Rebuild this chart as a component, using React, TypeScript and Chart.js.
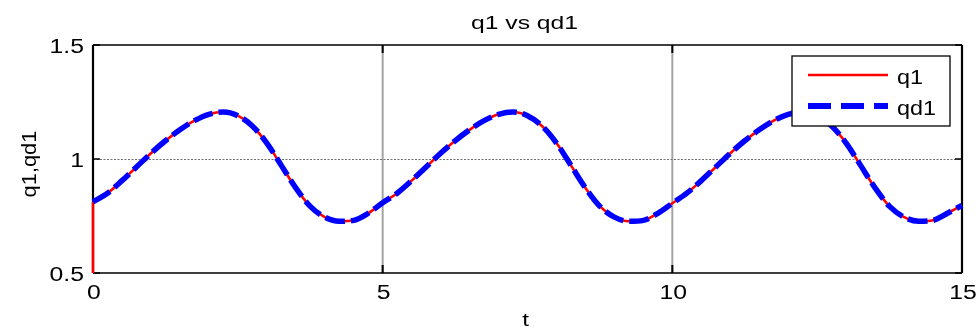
import React, { useEffect, useRef } from "react";
import { Chart, registerables } from "chart.js";

Chart.register(...registerables);

// Sample times (s)
const timeSteps = [
  0, 0.25, 0.5, 0.75, 1, 1.25, 1.5, 1.75, 2, 2.25, 2.5, 2.75, 3, 3.25, 3.5, 3.75, 4, 4.25, 4.5, 4.75,
  5, 5.25, 5.5, 5.75, 6, 6.25, 6.5, 6.75, 7, 7.25, 7.5, 7.75, 8, 8.25, 8.5, 8.75, 9, 9.25, 9.5, 9.75,
  10, 10.25, 10.5, 10.75, 11, 11.25, 11.5, 11.75, 12, 12.25, 12.5, 12.75, 13, 13.25, 13.5, 13.75, 14, 14.25, 14.5, 14.75,
  15,
];

// Joint position q1
const q1Values = [
  0.812, 0.85, 0.905, 0.965, 1.025, 1.08, 1.128, 1.168, 1.196, 1.206, 1.19, 1.145, 1.07, 0.972, 0.873, 0.792, 0.745, 0.727, 0.731, 0.762,
  0.808, 0.85, 0.905, 0.965, 1.025, 1.08, 1.128, 1.168, 1.196, 1.206, 1.19, 1.145, 1.07, 0.972, 0.873, 0.792, 0.745, 0.727, 0.731, 0.762,
  0.806, 0.85, 0.905, 0.965, 1.025, 1.08, 1.128, 1.168, 1.196, 1.206, 1.19, 1.145, 1.07, 0.972, 0.873, 0.792, 0.745, 0.727, 0.731, 0.762,
  0.797,
];

// Desired trajectory qd1
const qd1Values = [
  0.812, 0.85, 0.905, 0.965, 1.025, 1.08, 1.128, 1.168, 1.196, 1.206, 1.19, 1.145, 1.07, 0.972, 0.873, 0.792, 0.745, 0.727, 0.731, 0.762,
  0.808, 0.85, 0.905, 0.965, 1.025, 1.08, 1.128, 1.168, 1.196, 1.206, 1.19, 1.145, 1.07, 0.972, 0.873, 0.792, 0.745, 0.727, 0.731, 0.762,
  0.806, 0.85, 0.905, 0.965, 1.025, 1.08, 1.128, 1.168, 1.196, 1.206, 1.19, 1.145, 1.07, 0.972, 0.873, 0.792, 0.745, 0.727, 0.731, 0.762,
  0.797,
];

// q1 starts from this value at t = 0 before jumping onto the trajectory
const q1InitialValue = 0.5;

const xTicks = [0, 5, 10, 15];
const yTicks = [0.5, 1, 1.5];

const titleText = "q1 vs qd1";
const xAxisTitle = "t";
const yAxisTitle = "q1,qd1";
const seriesNames = ["q1", "qd1"];

const RED = "#ff0000";
const BLUE = "#0000ff";
const FONT = '"Liberation Sans", Arial, Helvetica, sans-serif';
const WIDE = 1.27;

function wideText(
  ctx: CanvasRenderingContext2D,
  text: string,
  x: number,
  y: number,
  size: number,
  align: CanvasTextAlign,
  sx: number = WIDE
) {
  ctx.save();
  ctx.translate(x, y);
  ctx.scale(sx, 1);
  ctx.font = `${size}px ${FONT}`;
  ctx.fillStyle = "#000";
  ctx.textAlign = align;
  ctx.textBaseline = "alphabetic";
  ctx.fillText(text, 0, 0);
  ctx.restore();
}

const frameAndGrid = {
  id: "frameAndGrid",
  beforeDatasetsDraw(chart: any) {
    const { ctx, chartArea: a, scales } = chart;
    const xs = scales.x;
    const ys = scales.y;
    ctx.save();
    // vertical grid lines
    ctx.strokeStyle = "rgba(0,0,0,0.36)";
    ctx.lineWidth = 2;
    xTicks.slice(1, -1).forEach((v) => {
      const px = xs.getPixelForValue(v);
      ctx.beginPath();
      ctx.moveTo(px, a.top);
      ctx.lineTo(px, a.bottom);
      ctx.stroke();
    });
    // horizontal grid lines
    ctx.strokeStyle = "#6f6f6f";
    ctx.lineWidth = 1;
    ctx.setLineDash([2, 1.5]);
    yTicks.slice(1, -1).forEach((v) => {
      const py = Math.round(ys.getPixelForValue(v)) + 0.5;
      ctx.beginPath();
      ctx.moveTo(a.left, py);
      ctx.lineTo(a.right, py);
      ctx.stroke();
    });
    ctx.setLineDash([]);

    // inward tick marks
    ctx.strokeStyle = "#000";
    ctx.lineWidth = 2;
    xTicks.forEach((v) => {
      const px = xs.getPixelForValue(v);
      ctx.beginPath();
      ctx.moveTo(px, a.bottom);
      ctx.lineTo(px, a.bottom - 8);
      ctx.moveTo(px, a.top);
      ctx.lineTo(px, a.top + 8);
      ctx.stroke();
    });
    ctx.lineWidth = 1.5;
    yTicks.forEach((v) => {
      const py = ys.getPixelForValue(v);
      ctx.beginPath();
      ctx.moveTo(a.left, py);
      ctx.lineTo(a.left + 7, py);
      ctx.moveTo(a.right, py);
      ctx.lineTo(a.right - 7, py);
      ctx.stroke();
    });

    // axes box
    ctx.lineWidth = 1.6;
    ctx.beginPath();
    ctx.moveTo(a.left, a.top);
    ctx.lineTo(a.right, a.top);
    ctx.moveTo(a.left, a.bottom);
    ctx.lineTo(a.right, a.bottom);
    ctx.stroke();
    ctx.lineWidth = 2.2;
    ctx.beginPath();
    ctx.moveTo(a.left, a.top);
    ctx.lineTo(a.left, a.bottom);
    ctx.moveTo(a.right, a.top);
    ctx.lineTo(a.right, a.bottom);
    ctx.stroke();
    ctx.restore();
  },
  afterDatasetsDraw(chart: any) {
    const { ctx, chartArea: a, scales } = chart;
    const xs = scales.x;
    const ys = scales.y;

    // tick labels
    yTicks.forEach((v) => {
      const py = ys.getPixelForValue(v);
      wideText(ctx, String(v), a.left - 9, py + 7.5, 19.5, "right");
    });
    xTicks.forEach((v) => {
      const px = xs.getPixelForValue(v);
      wideText(ctx, String(v), px + 1, a.bottom + 26, 19.5, "center");
    });

    // titles
    wideText(ctx, titleText, (a.left + a.right) / 2 - 3, 28.5, 19, "center", 1.3);
    wideText(ctx, xAxisTitle, (a.left + a.right) / 2 - 2, a.bottom + 53, 19, "center");
    ctx.save();
    ctx.translate(36, (a.top + a.bottom) / 2 + 5);
    ctx.rotate(-Math.PI / 2);
    ctx.scale(1.12, 1);
    ctx.font = `19.5px ${FONT}`;
    ctx.fillStyle = "#000";
    ctx.textAlign = "center";
    ctx.textBaseline = "alphabetic";
    ctx.fillText(yAxisTitle, 0, 0);
    ctx.restore();

    // legend box
    const bw = 158;
    const bh = 70;
    const bx = a.right - 170;
    const by = a.top + 11;
    ctx.save();
    ctx.fillStyle = "#fff";
    ctx.fillRect(bx, by, bw, bh);
    ctx.strokeStyle = "#000";
    ctx.lineWidth = 1.3;
    ctx.strokeRect(bx, by, bw, bh);

    ctx.lineCap = "butt";
    ctx.strokeStyle = RED;
    ctx.lineWidth = 2.6;
    ctx.beginPath();
    ctx.moveTo(bx + 16, by + 19);
    ctx.lineTo(bx + 96, by + 19);
    ctx.stroke();

    ctx.strokeStyle = BLUE;
    ctx.lineWidth = 6;
    ctx.setLineDash([23, 10]);
    ctx.beginPath();
    ctx.moveTo(bx + 16, by + 50);
    ctx.lineTo(bx + 96, by + 50);
    ctx.stroke();
    ctx.restore();

    wideText(ctx, seriesNames[0], bx + 105, by + 28, 19.5, "left", 1.2);
    wideText(ctx, seriesNames[1], bx + 105, by + 59, 19.5, "left", 1.2);
  },
};

export default function App() {
  const canvasRef = useRef<HTMLCanvasElement | null>(null);

  useEffect(() => {
    const canvas = canvasRef.current;
    if (!canvas) return;

    const q1Points = timeSteps.map((t, i) => ({ x: t, y: q1Values[i] }));
    const qd1Points = timeSteps.map((t, i) => ({ x: t, y: qd1Values[i] }));
    const q1Jump = [
      { x: timeSteps[0], y: q1InitialValue },
      { x: timeSteps[0], y: q1Values[0] },
    ];

    const chart = new Chart(canvas, {
      type: "line",
      data: {
        datasets: [
          {
            label: seriesNames[1],
            data: qd1Points,
            borderColor: BLUE,
            borderWidth: 5.5,
            borderDash: [20, 6],
            borderCapStyle: "butt",
            borderJoinStyle: "round",
            pointRadius: 0,
            cubicInterpolationMode: "monotone",
            fill: false,
            order: 0,
            clip: false,
          },
          {
            label: seriesNames[0],
            data: q1Points,
            borderColor: RED,
            borderWidth: 2.6,
            pointRadius: 0,
            cubicInterpolationMode: "monotone",
            fill: false,
            order: 1,
            clip: false,
          },
          {
            label: seriesNames[0] + " start",
            data: q1Jump,
            borderColor: RED,
            borderWidth: 2.6,
            pointRadius: 0,
            tension: 0,
            fill: false,
            order: 1,
            clip: false,
          },
        ],
      },
      options: {
        animation: false,
        responsive: false,
        events: [],
        layout: { padding: { left: 0, top: 45, right: 17, bottom: 0 } },
        plugins: {
          legend: { display: false },
          title: { display: false },
          tooltip: { enabled: false },
        },
        scales: {
          x: {
            type: "linear",
            min: 0,
            max: 15,
            ticks: { display: false },
            grid: { display: false },
            border: { display: false },
            afterBuildTicks: (scale: any) => {
              scale.ticks = xTicks.map((v) => ({ value: v }));
            },
            afterFit: (scale: any) => {
              scale.height = 54;
            },
          },
          y: {
            type: "linear",
            min: 0.5,
            max: 1.5,
            ticks: { display: false },
            grid: { display: false },
            border: { display: false },
            afterBuildTicks: (scale: any) => {
              scale.ticks = yTicks.map((v) => ({ value: v }));
            },
            afterFit: (scale: any) => {
              scale.width = 93;
            },
          },
        },
      },
      plugins: [frameAndGrid],
    });

    return () => chart.destroy();
  }, []);

  return (
    <div style={{ position: "fixed", left: 0, top: 0, width: 979, height: 327, background: "#fff" }}>
      <canvas ref={canvasRef} width={979} height={327} style={{ display: "block" }} />
    </div>
  );
}
